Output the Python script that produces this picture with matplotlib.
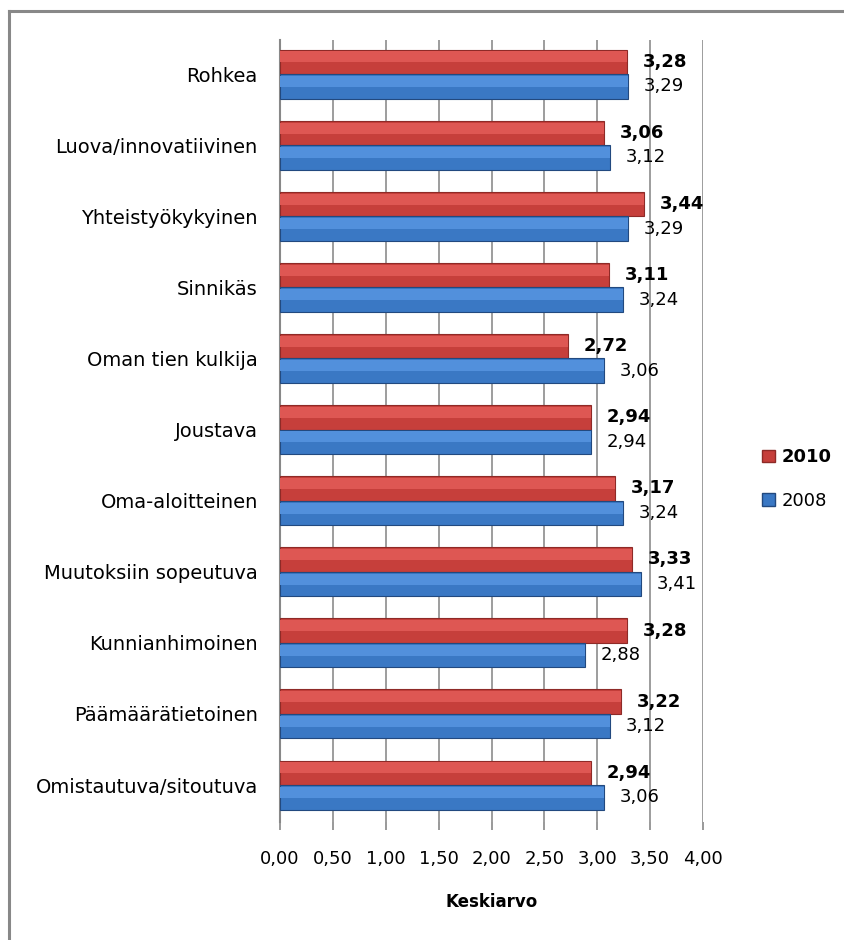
import matplotlib.pyplot as plt
from matplotlib.lines import Line2D
from matplotlib.patches import Patch

# Data (top to bottom)
categories = ['Rohkea', 'Luova/innovatiivinen', 'Yhteistyökykyinen', 'Sinnikäs',
              'Oman tien kulkija', 'Joustava', 'Oma-aloitteinen', 'Muutoksiin sopeutuva',
              'Kunnianhimoinen', 'Päämäärätietoinen', 'Omistautuva/sitoutuva']
vals_2010 = [3.28, 3.06, 3.44, 3.11, 2.72, 2.94, 3.17, 3.33, 3.28, 3.22, 2.94]
vals_2008 = [3.29, 3.12, 3.29, 3.24, 3.06, 2.94, 3.24, 3.41, 2.88, 3.12, 3.06]
xticks = [0, 0.5, 1, 1.5, 2, 2.5, 3, 3.5, 4]

red, red_hi, red_dk = '#C63F3B', '#DE5753', '#8E2A27'
blue, blue_hi, blue_dk = '#3A78C4', '#5290DC', '#22497F'
fs = 13

fig = plt.figure(figsize=(8.44, 9.4), dpi=100)
ax = fig.add_axes([280 / 844, 1 - 822 / 940, 423 / 844, 782 / 940])

pos = list(range(len(categories)))
h = 0.345
y10 = [p - h / 2 for p in pos]
y08 = [p + h / 2 for p in pos]

# main bars plus a slightly lighter band on top for the bevel look
ax.barh(y10, vals_2010, height=h, color=red, edgecolor=red_dk, linewidth=0.8, zorder=3)
ax.barh([y - h * 0.2 for y in y10], vals_2010, height=h * 0.45, color=red_hi,
        linewidth=0, zorder=4)
ax.barh(y08, vals_2008, height=h, color=blue, edgecolor=blue_dk, linewidth=0.8, zorder=3)
ax.barh([y - h * 0.2 for y in y08], vals_2008, height=h * 0.45, color=blue_hi,
        linewidth=0, zorder=4)

for y, v in zip(y10, vals_2010):
    ax.annotate(f'{v:.2f}'.replace('.', ','), (v, y), xytext=(16, 0),
                textcoords='offset pixels', va='center', ha='left',
                fontsize=fs, fontweight='bold')
for y, v in zip(y08, vals_2008):
    ax.annotate(f'{v:.2f}'.replace('.', ','), (v, y), xytext=(16, 0),
                textcoords='offset pixels', va='center', ha='left', fontsize=fs)

ax.set_xlim(0, 4)
ax.set_ylim(10.52, -0.48)
ax.set_yticks(pos)
ax.set_yticklabels(categories, fontsize=14)
ax.set_xticks(xticks)
ax.set_xticklabels([f'{t:.2f}'.replace('.', ',') for t in xticks], fontsize=fs)
ax.tick_params(axis='y', length=0, pad=16)
ax.tick_params(axis='x', length=6, color='#888888', width=1.2, pad=14)
ax.grid(axis='x', color='#8C8C8C', linewidth=1.2, zorder=0)
for s in ['top', 'right', 'bottom']:
    ax.spines[s].set_visible(False)
ax.spines['left'].set_color('#888888')
ax.spines['left'].set_linewidth(1.5)
ax.set_xlabel('Keskiarvo', fontsize=12, fontweight='bold', labelpad=18)

handles = [Patch(facecolor=red, edgecolor=red_dk),
           Patch(facecolor=blue, edgecolor=blue_dk)]
leg = fig.legend(handles, ['2010', '2008'], loc='center left',
                 bbox_to_anchor=(753 / 844, 1 - 479 / 940), frameon=False,
                 fontsize=fs, handlelength=0.7, handleheight=0.7,
                 handletextpad=0.4, labelspacing=1.4, borderpad=0)
leg.get_texts()[0].set_fontweight('bold')

# outer frame (left and top edges)
fig.add_artist(Line2D([9 / 844, 9 / 844], [0, 1 - 11 / 940],
                      transform=fig.transFigure, color='#888888', linewidth=2.2))
fig.add_artist(Line2D([9 / 844, 1], [1 - 11 / 940, 1 - 11 / 940],
                      transform=fig.transFigure, color='#888888', linewidth=2.2))

plt.savefig('out.png', dpi=100)
plt.close()
